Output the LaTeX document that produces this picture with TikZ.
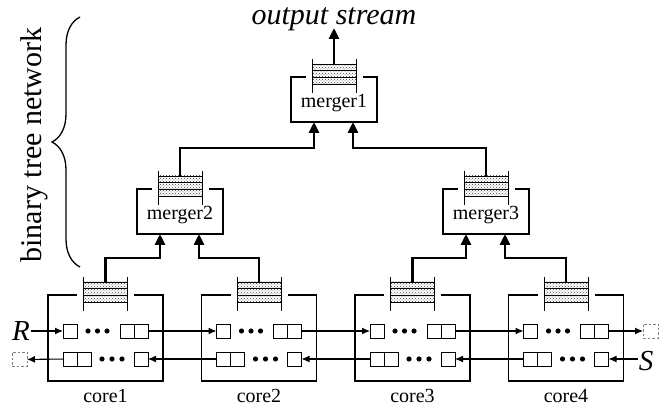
\documentclass[tikz,border=0pt]{standalone}
\usepackage{fontspec}
\setmainfont{Liberation Serif}
\usetikzlibrary{arrows.meta,patterns,decorations.pathreplacing}
\begin{document}
\begin{tikzpicture}[x=1pt,y=-1pt,
  cbox/.style={line width=1.8pt},
  cell/.style={draw,line width=0.9pt,fill=white,minimum width=14pt,minimum height=14pt,inner sep=0pt,outer sep=0pt},
  ghost/.style={draw=gray,dash pattern=on 2.5pt off 2pt,line width=0.9pt,minimum width=15pt,minimum height=14pt,inner sep=0pt,outer sep=0pt},
  flow/.style={line width=1.1pt,-{Latex[length=8pt,width=7pt]}},
  tree/.style={line width=2.8pt,-{Triangle[length=11pt,width=10pt]}},
  qline/.style={line width=0.8pt},
  lbl/.style={font=\fontsize{20}{24}\selectfont,inner sep=0pt},
  big/.style={font=\fontsize{29}{32}\selectfont\itshape,inner sep=1pt},
  queue/.pic={
    \fill[pattern=crosshatch dots,pattern color=black!75] (-22,-13) rectangle (22,7);
    \foreach \yy in {-13,-6.33,0.33,7} \draw[qline] (-22,\yy) -- (22,\yy);
    \draw[qline] (-22,-18) -- (-22,16) (22,-18) -- (22,16);
  }
]
\useasboundingbox (0,0) rectangle (672,411);

% cores
\foreach \i/\L in {1/48,2/201.5,3/355,4/508.5}{
  \begin{scope}[shift={(\L,0)}]
    \draw[cbox] (29,295) -| (0,381) -| (115,295) -- (86,295);
    \pic at (57.5,295) {queue};
    \coordinate (q\i) at (57.5,282);
    \node[cell] (t\i-a) at (22,331) {};
    \node[cell] (t\i-b) at (79,331) {};
    \node[cell] (t\i-c) at (93,331) {};
    \node[cell] (b\i-a) at (22,359) {};
    \node[cell] (b\i-b) at (36,359) {};
    \node[cell] (b\i-c) at (93,359) {};
    \foreach \dx in {40,49.5,59} \fill (\dx,331) circle (2.6);
    \foreach \dx in {54,64,74} \fill (\dx,359) circle (2.6);
    \node[lbl] (c\i) at (57.5,396) {core\i};
  \end{scope}
}

% mergers
\foreach \m/\cx/\ty in {1/334/77,2/180/189,3/486/189}{
  \draw[cbox] ({\cx-28.5},\ty) -| ({\cx-43},{\ty+45}) -| ({\cx+43},\ty) -- ({\cx+28.5},\ty);
  \pic at (\cx,\ty) {queue};
  \coordinate (mq\m) at (\cx,{\ty-13});
  \coordinate (m\m-l) at ({\cx-20},{\ty+45});
  \coordinate (m\m-r) at ({\cx+19},{\ty+45});
  \node[lbl] (m\m) at (\cx,{\ty+26}) {merger\m};
}

% tree connectors
\draw[tree] (q1) -- ++(0,-24) -| (m2-l);
\draw[tree] (q2) -- ++(0,-24) -| (m2-r);
\draw[tree] (q3) -- ++(0,-24) -| (m3-l);
\draw[tree] (q4) -- ++(0,-24) -| (m3-r);
\draw[tree] (mq2) -- ++(0,-28) -| (m1-l);
\draw[tree] (mq3) -- ++(0,-28) -| (m1-r);
\coordinate (out) at (334,28);
\draw[tree] (mq1) -- (out);
\node[font=\fontsize{30}{34}\selectfont\itshape,anchor=base,inner sep=0pt] (os) at (334,25) {output stream};

% streams
\node[big] (R) at (21,331) {R};
\node[big] (S) at (646,361) {S};
\node[ghost] (dL) at (19.5,359.5) {};
\node[ghost] (dR) at (650.5,331) {};
\draw[flow] (R) -- (t1-a);
\foreach \i/\j in {1/2,2/3,3/4} \draw[flow] (t\i-c) -- (t\j-a);
\draw[flow] (t4-c) -- (dR);
\draw[flow] (S.west |- b4-c) -- (b4-c);
\foreach \i/\j in {4/3,3/2,2/1} \draw[flow] (b\i-a) -- (b\j-c);
\draw[flow] (b1-a) -- (dL);

% brace
\draw[decorate,decoration={brace,amplitude=28pt},line width=1.3pt] (80,267) -- (80,17);
\node[rotate=90,font=\fontsize{30}{34}\selectfont,inner sep=0pt] (btn) at (34,145) {binary tree network};
\end{tikzpicture}
\end{document}
